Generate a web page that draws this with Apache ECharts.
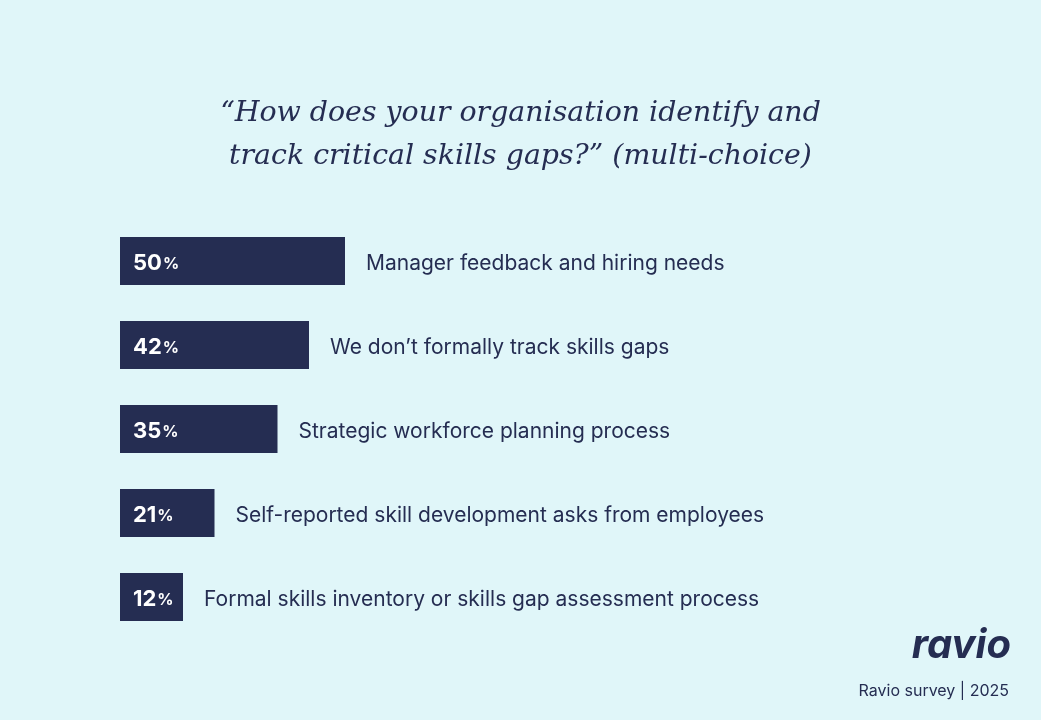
<!DOCTYPE html>
<html><head><meta charset="utf-8">
<script src="https://cdn.jsdelivr.net/npm/echarts@6/dist/echarts.min.js"></script>
<style>html,body{margin:0;padding:0;background:#e0f6f9}#c{width:1041px;height:720px}</style>
</head><body><div id="c"></div>
<script>
const categories = ["Manager feedback and hiring needs","We don’t formally track skills gaps","Strategic workforce planning process","Self-reported skill development asks from employees","Formal skills inventory or skills gap assessment process"];
const values = [50, 42, 35, 21, 12];
const navy = '#252d52';
const chart = echarts.init(document.getElementById('c'));
chart.setOption({
  backgroundColor: '#e0f6f9',
  animation: false,
  title: {
    text: '“How does your organisation identify and\ntrack critical skills gaps?” (multi-choice)',
    left: 'center', top: 87,
    textStyle: {fontFamily: 'DejaVu Serif', fontStyle: 'italic', fontWeight: 'normal', fontSize: 28.4, color: navy, lineHeight: 43}
  },
  grid: {left: 120, top: 219, width: 900, height: 420},
  xAxis: {type: 'value', min: 0, max: 200, show: false},
  yAxis: {type: 'category', data: categories, inverse: true, show: false},
  series: [{
    type: 'bar', data: values, barWidth: 48, barMinHeight: 63,
    itemStyle: {color: navy},
    label: {show: true, position: 'insideLeft', distance: 13,
      formatter: p => '{v|' + p.value + '}{p|%}',
      rich: {v: {fontFamily: 'Inter', fontWeight: 'bold', fontSize: 22, color: '#fff', padding: [4,0,0,0]},
             p: {fontFamily: 'Inter', fontWeight: 'bold', fontSize: 16, color: '#fff', padding: [7,0,0,1]}}}
  },{
    type: 'bar', data: values, barWidth: 48, barMinHeight: 63, barGap: '-100%',
    itemStyle: {color: 'transparent'}, silent: true,
    label: {show: true, position: 'right', distance: 21, offset: [0, 3],
      formatter: p => categories[p.dataIndex],
      fontFamily: 'Inter', fontSize: 21, color: navy}
  }],
  graphic: [
    {type: 'text', right: 30, top: 626, style: {text: 'ravio', font: 'italic bold 40px Inter', fill: navy}},
    {type: 'text', right: 32, top: 683, style: {text: 'Ravio survey | 2025', font: '16px Inter', fill: navy}}
  ]
});
</script></body></html>
